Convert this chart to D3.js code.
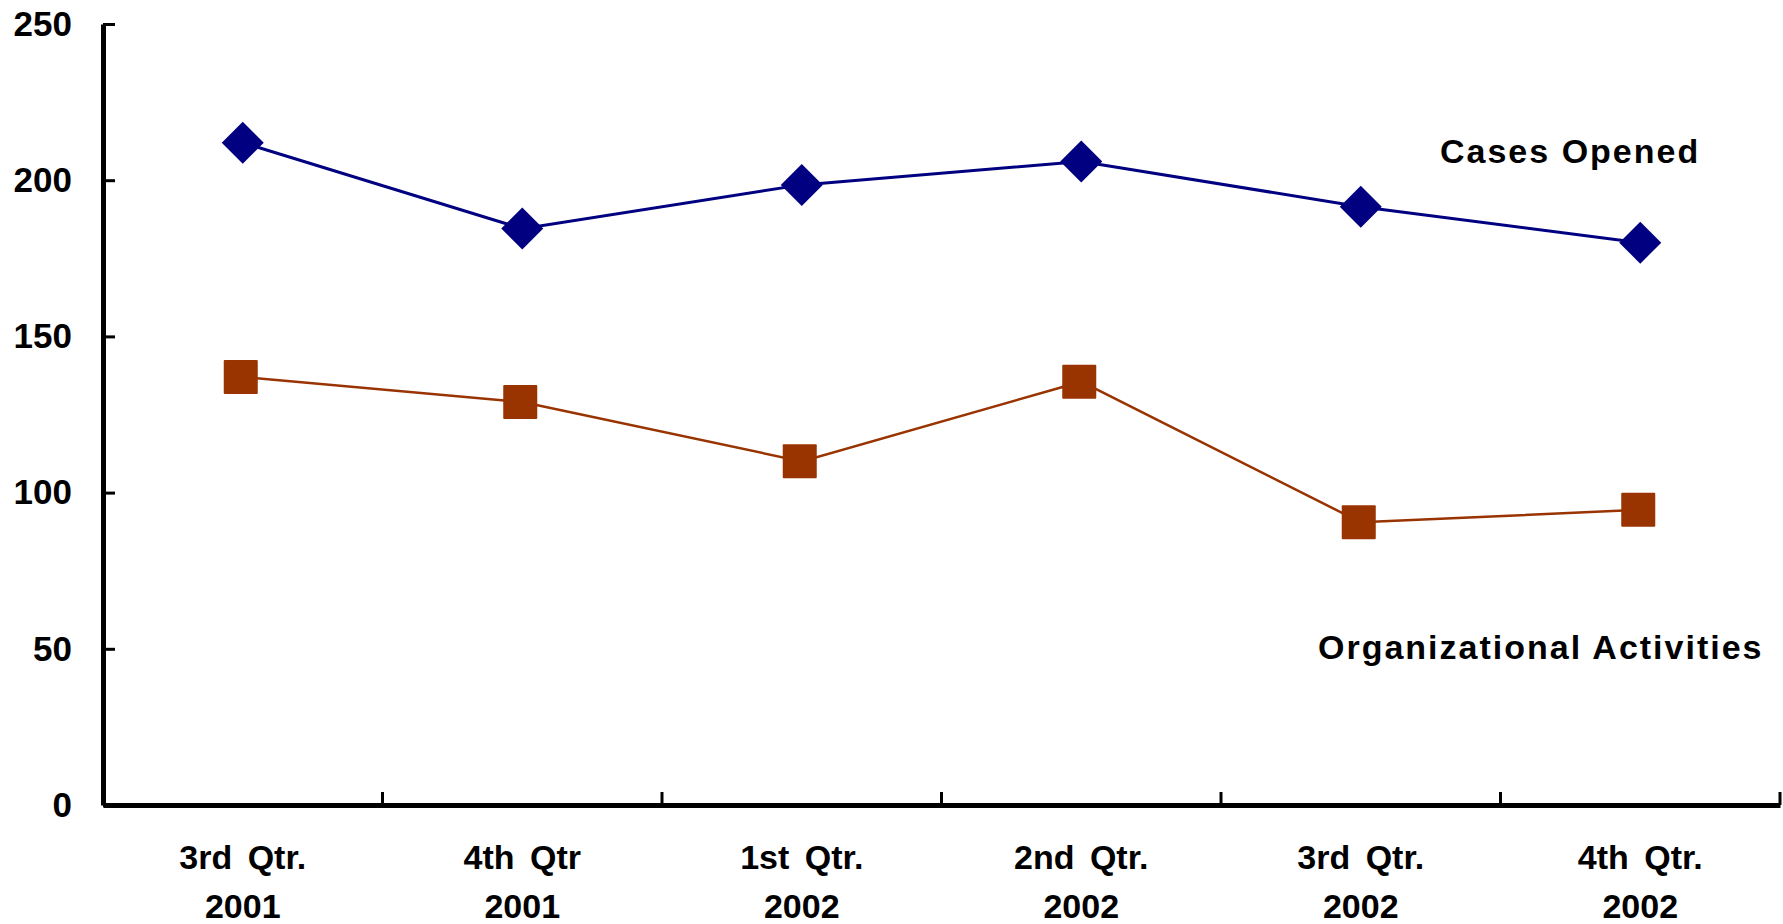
<!DOCTYPE html>
<html>
<head>
<meta charset="utf-8">
<script src="https://cdn.jsdelivr.net/npm/d3@7"></script>
<style>
  body { margin: 0; background: #fff; }
  svg { display: block; font-family: "Liberation Sans", Arial, sans-serif; font-weight: bold; }
</style>
</head>
<body>
<div id="chart"></div>
<script>
// quarters on the x axis (two-line labels)
const quarters = ["3rd Qtr.", "4th Qtr", "1st Qtr.", "2nd Qtr.", "3rd Qtr.", "4th Qtr."];
const years = ["2001", "2001", "2002", "2002", "2002", "2002"];
const casesOpened = [212, 184.5, 198.5, 206, 191.5, 180];
const orgActivities = [137, 129, 110, 135.5, 90.5, 94.5];
const yTicks = [0, 50, 100, 150, 200, 250];

const width = 1783, height = 924;
const svg = d3.select("#chart").append("svg")
  .attr("width", width)
  .attr("height", height);

const idx = quarters.map((q, i) => i);

const x = d3.scaleBand()
  .domain(idx)
  .range([103, 1780])
  .padding(0);

const y = d3.scaleLinear()
  .domain([0, 250])
  .range([805, 24]);

const cx = i => x(i) + x.bandwidth() / 2;

// y axis
const yAxis = svg.append("g")
  .attr("transform", "translate(103,0)")
  .call(d3.axisLeft(y).tickValues(yTicks).tickSizeInner(-12).tickSizeOuter(0).tickPadding(31));
yAxis.select(".domain").attr("stroke", "#000").attr("stroke-width", 5);
yAxis.selectAll(".tick line").attr("stroke", "#000").attr("stroke-width", 3);
yAxis.selectAll(".tick text")
  .attr("fill", "#000")
  .style("font-size", "35px")
  .style("font-weight", "bold");

// x axis
const xAxis = svg.append("g")
  .attr("transform", "translate(0,805)")
  .call(d3.axisBottom(x).tickSize(0).tickFormat(""));
xAxis.select(".domain").attr("stroke", "#000").attr("stroke-width", 5);

xAxis.selectAll(".tick text").each(function(d) {
  const t = d3.select(this)
    .attr("y", 0).attr("dy", null)
    .attr("fill", "#000")
    .style("font-size", "34px")
    .style("word-spacing", "6px");
  t.append("tspan").attr("x", 0).attr("y", 64).text(quarters[d]);
  t.append("tspan").attr("x", 0).attr("y", 113).text(years[d]);
});

// tick marks between categories (pointing up)
xAxis.selectAll(".sep")
  .data(idx)
  .enter().append("line")
  .attr("class", "sep")
  .attr("x1", d => x(d) + x.bandwidth())
  .attr("x2", d => x(d) + x.bandwidth())
  .attr("y1", 0)
  .attr("y2", -13)
  .attr("stroke", "#000")
  .attr("stroke-width", 3);

// series lines
const line = d3.line().x((d, i) => cx(i)).y(d => y(d));

svg.append("path")
  .datum(orgActivities)
  .attr("fill", "none")
  .attr("stroke", "#993300")
  .attr("stroke-width", 2.5)
  .attr("d", line);

svg.append("path")
  .datum(casesOpened)
  .attr("fill", "none")
  .attr("stroke", "#000080")
  .attr("stroke-width", 3)
  .attr("d", line);

// square markers
svg.selectAll(".sq")
  .data(orgActivities)
  .enter().append("rect")
  .attr("class", "sq")
  .attr("x", (d, i) => cx(i) - 19)
  .attr("y", d => y(d) - 17)
  .attr("width", 34)
  .attr("height", 34)
  .attr("rx", 1)
  .attr("fill", "#993300");

// diamond markers
svg.selectAll(".dm")
  .data(casesOpened)
  .enter().append("path")
  .attr("class", "dm")
  .attr("d", (d, i) => {
    const px = cx(i), py = y(d), r = 21;
    return `M${px},${py - r}L${px + r},${py}L${px},${py + r}L${px - r},${py}Z`;
  })
  .attr("fill", "#000080");

// series labels
svg.append("text")
  .attr("x", 1440)
  .attr("y", 163)
  .style("font-size", "34px")
  .style("letter-spacing", "2px")
  .text("Cases Opened");

svg.append("text")
  .attr("x", 1318)
  .attr("y", 659)
  .style("font-size", "34px")
  .style("letter-spacing", "2px")
  .text("Organizational Activities");
</script>
</body>
</html>
